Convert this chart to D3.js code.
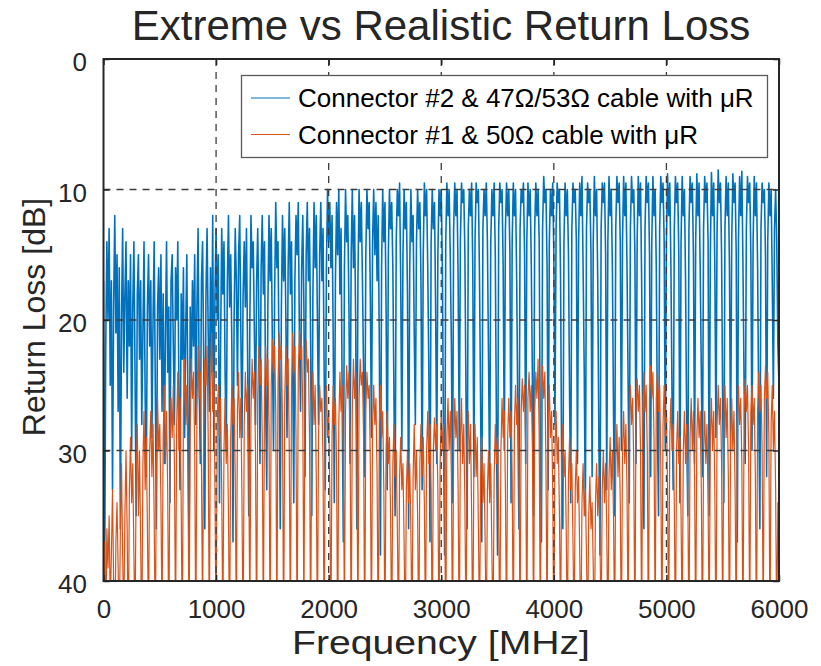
<!DOCTYPE html>
<html>
<head>
<meta charset="utf-8">
<script src="https://cdn.jsdelivr.net/npm/d3@7"></script>
<style>
  body { margin: 0; background: #fff; }
  text { font-family: "Liberation Sans", Arial, Helvetica, sans-serif; }
</style>
</head>
<body>
<div id="chart"></div>
<script>
// labels
const chartTitle = 'Extreme vs Realistic Return Loss';
const xLabel = 'Frequency [MHz]';
const yLabel = 'Return Loss [dB]';
const seriesNames = ['Connector #2 & 47Ω/53Ω cable with μR', 'Connector #1 & 50Ω cable with μR'];
const xTicks = [0, 1000, 2000, 3000, 4000, 5000, 6000];
const yTicks = [0, 10, 20, 30, 40];

// sweep: 0..6000 MHz, one reading every 10 MHz (dB)
const freqStepMHz = 10;

// Connector #2 & 47/53 ohm cable (one row = 200 MHz)
const blueDb = [
  17, 40, 22, 14, 20, 13, 25, 17, 33, 19, 12, 21, 15, 27, 16, 36, 20, 13, 24, 18,
  14, 26, 17, 22, 15, 30, 19, 14, 24, 35, 18, 15, 23, 17, 28, 21, 14, 26, 32, 19,
  15, 22, 17, 29, 20, 14, 25, 36, 19, 16, 23, 15, 27, 18, 31, 21, 14, 24, 19, 34,
  17, 15, 22, 28, 16, 20, 14, 26, 33, 18, 23, 16, 29, 21, 15, 27, 38, 19, 24, 17,
  22, 15, 28, 19, 13, 25, 31, 17, 14, 23, 36, 18, 13, 21, 27, 16, 24, 12, 30, 18,
  13, 20, 15, 34, 22, 13, 18, 14, 24, 30, 17, 12, 19, 15, 22, 37, 20, 13, 17, 25,
  15, 12, 21, 29, 18, 14, 19, 13, 23, 35, 20, 12, 16, 14, 21, 28, 17, 13, 20, 31,
  16, 12, 18, 14, 26, 33, 19, 12, 17, 13, 22, 30, 18, 11, 16, 14, 24, 36, 19, 12,
  17, 13, 20, 29, 16, 11, 18, 14, 23, 34, 17, 12, 15, 11, 21, 27, 16, 12, 19, 32,
  15, 11, 17, 13, 22, 35, 18, 11, 16, 12, 20, 28, 15, 11, 17, 13, 24, 33, 16, 10,
  14, 11, 16, 12, 21, 34, 17, 11, 15, 10, 18, 13, 26, 37, 16, 10, 14, 12, 19, 31,
  15, 10, 16, 12, 20, 36, 17, 10, 14, 11, 17, 24, 32, 15, 10, 13, 11, 18, 29, 14,
  10, 15, 11, 17, 12, 22, 38, 16, 10, 14, 11, 19, 33, 15, 10, 13, 11, 16, 26, 35,
  14, 10, 12, 9.5, 17, 30, 15, 10, 13, 11, 18, 36, 16, 10, 14, 12, 21, 28, 14, 10,
  13, 11, 17, 33, 15, 9.5, 12, 10, 16, 24, 37, 14, 10, 13, 11, 19, 31, 15, 10, 12,
  10, 16, 29, 38, 14, 9.5, 12, 10, 15, 22, 34, 13, 9.5, 12, 10, 17, 30, 14, 9.5, 11,
  10, 15, 26, 36, 13, 10, 12, 9.5, 16, 32, 14, 9.5, 11, 10, 17, 27, 37, 13, 10, 12,
  9.5, 14, 23, 33, 14, 10, 12, 9.5, 15, 28, 38, 13, 9.5, 11, 10, 16, 30, 13, 9.5, 12,
  10, 15, 34, 14, 9.5, 12, 10, 17, 27, 36, 13, 10, 11, 9.5, 15, 31, 14, 9.5, 12, 10,
  16, 25, 35, 13, 9.5, 12, 10, 14, 30, 37, 13, 9, 11, 10, 16, 33, 14, 10, 12, 9.5,
  15, 28, 13, 9.5, 11, 10, 17, 32, 36, 14, 9.5, 12, 10, 15, 26, 34, 13, 9.5, 11, 10,
  14, 31, 14, 9.5, 12, 9, 16, 24, 35, 13, 9.5, 11, 10, 15, 32, 14, 9, 12, 10, 17,
  29, 38, 13, 9.5, 11, 9.5, 15, 33, 14, 9, 12, 10, 16, 27, 35, 13, 9, 11, 9.5, 14,
  30, 14, 9, 12, 9.5, 16, 25, 34, 13, 9, 11, 10, 15, 31, 14, 9, 12, 9.5, 17, 29,
  36, 13, 9, 11, 9.5, 15, 32, 14, 9, 12, 10, 16, 28, 35, 13, 9, 11, 9.5, 14, 30,
  14, 8.8, 12, 9.5, 16, 26, 33, 13, 9, 11, 9.5, 15, 34, 14, 9, 12, 10, 17, 28, 35,
  13, 9, 11, 9.5, 15, 31, 14, 8.8, 12, 9.5, 16, 24, 32, 13, 9, 11, 9.5, 14, 35, 15,
  8.7, 12, 9.5, 16, 29, 13, 8.5, 11, 9.5, 15, 27, 34, 13, 9, 12, 9.5, 16, 30, 14, 8.8,
  11, 9.5, 15, 37, 14, 9, 12, 8.6, 16, 25, 31, 13, 9, 11, 9.5, 15, 30, 14, 9, 12,
  9.5, 16, 27, 36, 13, 9.5, 11, 10, 15, 32, 14, 9.5, 12, 10, 17, 26, 13, 10, 14, 22,
  25
];

// Connector #1 & 50 ohm cable (one row = 200 MHz, dips run off the 40 dB floor)
const orangeDb = [
  40, 37, 44, 36, 39, 35, 42, 38, 33, 40, 45, 37, 34, 39, 44, 36, 31, 38, 43, 35,
  30, 36, 45, 33, 29, 34, 31, 38, 44, 32, 28, 35, 30, 37, 45, 31, 27, 33, 29, 36,
  44, 30, 27, 32, 28, 35, 45, 31, 26, 30, 28, 34, 43, 29, 25, 31, 27, 33, 45, 30,
  26, 29, 25, 31, 44, 28, 24, 30, 26, 34, 45, 27, 23, 28, 25, 32, 44, 29, 23, 26,
  24, 30, 45, 27, 22, 26, 24, 31, 43, 28, 23, 25, 22, 29, 45, 26, 21, 27, 24, 33,
  45, 28, 25, 29, 26, 33, 44, 30, 26, 31, 28, 35, 45, 29, 25, 28, 26, 32, 44, 27,
  24, 29, 26, 34, 45, 28, 24, 27, 25, 31, 43, 27, 23, 26, 24, 30, 45, 26, 22, 25,
  23, 29, 44, 26, 22, 25, 23, 28, 45, 25, 21.5, 24, 22, 27, 44, 25, 21, 23, 22, 28,
  45, 26, 22, 25, 23, 30, 44, 25, 21, 24, 22, 29, 45, 24, 20.8, 23, 22, 27, 43, 25,
  21.5, 24, 23, 29, 45, 27, 24, 28, 25, 32, 44, 29, 25, 27, 26, 31, 45, 28, 25, 29,
  27, 33, 44, 29, 25, 28, 26, 31, 45, 28, 24, 27, 25, 30, 43, 27, 23.5, 26, 24, 29,
  45, 27, 23, 26, 24, 30, 44, 26, 23, 25, 24, 29, 45, 27, 24, 26, 25, 31, 44, 28,
  25, 28, 26, 32, 45, 28, 25, 29, 27, 33, 44, 30, 27, 31, 29, 35, 45, 31, 28, 32,
  30, 36, 44, 32, 29, 33, 31, 37, 45, 33, 30, 34, 31, 36, 44, 32, 28, 33, 30, 35,
  45, 31, 28, 32, 29, 34, 44, 30, 27, 31, 28, 33, 45, 30, 27.5, 30, 28, 33, 44, 31,
  27, 30, 28, 34, 45, 29, 26, 30, 27, 32, 44, 30, 26, 29, 27, 33, 45, 29, 26, 31,
  28, 34, 44, 30, 27, 31, 28, 35, 45, 31, 28, 32, 29, 36, 44, 32, 29, 34, 31, 37,
  45, 33, 30, 34, 31, 38, 44, 32, 28, 31, 29, 35, 45, 30, 26, 29, 27, 33, 44, 29,
  26, 29, 27, 32, 45, 28, 25, 28, 26, 31, 44, 27, 24.5, 27, 25, 30, 45, 26, 24, 27,
  25, 30, 44, 27, 24, 26, 23, 29, 45, 26, 23.5, 26, 24, 31, 44, 28, 25, 29, 27, 33,
  45, 30, 27, 31, 29, 35, 44, 31, 28, 32, 30, 36, 45, 32, 29, 33, 31, 37, 44, 33,
  30, 34, 32, 38, 45, 34, 31, 35, 33, 38, 44, 35, 32, 36, 34, 39, 45, 34, 31, 35,
  32, 37, 44, 33, 30, 34, 31, 36, 45, 32, 29, 33, 30, 35, 44, 31, 28, 32, 29, 34,
  45, 30, 27, 31, 28, 33, 44, 28, 25, 28, 26, 31, 45, 27, 24.5, 27, 25, 30, 44, 27,
  24, 27, 25, 30, 45, 26, 23.5, 26, 24, 29, 44, 26, 24, 27, 25, 31, 45, 28, 25, 29,
  27, 33, 44, 29, 26, 30, 28, 34, 45, 30, 27, 31, 29, 35, 44, 30, 27, 31, 28, 33,
  45, 29, 26, 30, 27, 32, 44, 29, 26, 29, 27, 33, 45, 30, 27, 31, 28, 34, 44, 29,
  26, 30, 27, 33, 45, 28, 25, 28, 26, 31, 44, 28, 25, 29, 26, 32, 45, 29, 26, 30,
  27, 33, 44, 28, 25, 28, 26, 31, 45, 27, 24.5, 27, 25, 30, 44, 27, 25, 28, 26, 32,
  45, 27, 24, 27, 25, 30, 44, 26, 23.5, 26, 24, 29, 45, 28, 25, 30, 27, 33, 44, 34,
  35
];

const colors = ['#0072BD', '#D95319'];
const lineWidths = [1.6, 1.2];
const axisColor = '#262626';

const width = 821, height = 666;
const plot = { left: 103.5, right: 779, top: 59, bottom: 581 };

const svg = d3.select('#chart').append('svg')
  .attr('width', width)
  .attr('height', height)
  .style('background', '#fff');

const x = d3.scaleLinear().domain([0, 6000]).range([plot.left, plot.right]);
const y = d3.scaleLinear().domain([0, 40]).range([plot.top, plot.bottom]);

svg.append('clipPath').attr('id', 'plotClip')
  .append('rect')
  .attr('x', plot.left).attr('y', plot.top)
  .attr('width', plot.right - plot.left)
  .attr('height', plot.bottom - plot.top);

// data lines
const line = d3.line()
  .x((d, i) => x(i * freqStepMHz))
  .y((d) => y(d));

const dataG = svg.append('g').attr('clip-path', 'url(#plotClip)');
[blueDb, orangeDb].forEach((vals, k) => {
  dataG.append('path')
    .datum(vals)
    .attr('d', line)
    .attr('fill', 'none')
    .attr('stroke', colors[k])
    .attr('stroke-width', lineWidths[k])
    .attr('stroke-linejoin', 'round');
});

// grid on top of the data
const grid = svg.append('g')
  .attr('stroke', '#3c3c3c')
  .attr('stroke-width', 1.3)
  .attr('stroke-dasharray', '7,6');
grid.selectAll('.gx')
  .data(xTicks.slice(1, -1))
  .enter().append('line')
  .attr('x1', (d) => x(d)).attr('x2', (d) => x(d))
  .attr('y1', plot.top).attr('y2', plot.bottom);
grid.selectAll('.gy')
  .data(yTicks.slice(1, -1))
  .enter().append('line')
  .attr('x1', plot.left).attr('x2', plot.right)
  .attr('y1', (d) => y(d)).attr('y2', (d) => y(d));

// axes (ticks inside, box on)
const tickFont = 26;
const styleAxis = (g) => {
  g.select('.domain').remove();
  g.selectAll('line').attr('stroke', axisColor).attr('stroke-width', 1.5);
  g.selectAll('text')
    .attr('fill', axisColor)
    .style('font-size', tickFont + 'px')
    .style('font-family', '"Liberation Sans", Arial, sans-serif');
};

svg.append('g')
  .attr('transform', `translate(0,${plot.bottom})`)
  .call(d3.axisBottom(x).tickValues(xTicks).tickSize(-6).tickPadding(19).tickFormat(d3.format('d')))
  .call(styleAxis);

svg.append('g')
  .attr('transform', `translate(0,${plot.top})`)
  .call(d3.axisTop(x).tickValues(xTicks).tickSize(-6).tickFormat(''))
  .call(styleAxis);

svg.append('g')
  .attr('transform', `translate(${plot.left},0)`)
  .call(d3.axisLeft(y).tickValues(yTicks).tickSize(-6).tickPadding(16.5).tickFormat(d3.format('d')))
  .call(styleAxis)
  .call((g) => g.selectAll('text').attr('dy', '0.45em'));

svg.append('g')
  .attr('transform', `translate(${plot.right},0)`)
  .call(d3.axisRight(y).tickValues(yTicks).tickSize(-6).tickFormat(''))
  .call(styleAxis);

// frame
svg.append('rect')
  .attr('x', plot.left).attr('y', plot.top)
  .attr('width', plot.right - plot.left)
  .attr('height', plot.bottom - plot.top)
  .attr('fill', 'none')
  .attr('stroke', axisColor)
  .attr('stroke-width', 2);

// titles
svg.append('text')
  .attr('x', 441).attr('y', 40)
  .attr('text-anchor', 'middle')
  .attr('fill', axisColor)
  .style('font-size', '42px')
  .text(chartTitle);

svg.append('text')
  .attr('x', 441).attr('y', 654)
  .attr('text-anchor', 'middle')
  .attr('fill', axisColor)
  .attr('textLength', 298)
  .attr('lengthAdjust', 'spacingAndGlyphs')
  .style('font-size', '34px')
  .text(xLabel);

svg.append('text')
  .attr('transform', 'translate(45,317) rotate(-90)')
  .attr('text-anchor', 'middle')
  .attr('fill', axisColor)
  .style('font-size', '32px')
  .text(yLabel);

// legend
const legend = svg.append('g');
legend.append('rect')
  .attr('x', 241.5).attr('y', 75.5)
  .attr('width', 526).attr('height', 82)
  .attr('fill', '#fff')
  .attr('stroke', '#5a5a5a')
  .attr('stroke-width', 1.3);

const legendRows = [98, 134.5];
seriesNames.forEach((name, k) => {
  legend.append('line')
    .attr('x1', 251).attr('x2', 290)
    .attr('y1', legendRows[k]).attr('y2', legendRows[k])
    .attr('stroke', colors[k])
    .attr('stroke-width', 1);
  legend.append('text')
    .attr('x', 298).attr('y', legendRows[k] + 9)
    .attr('fill', '#000')
    .style('font-size', '26px')
    .text(name);
});
</script>
</body>
</html>
